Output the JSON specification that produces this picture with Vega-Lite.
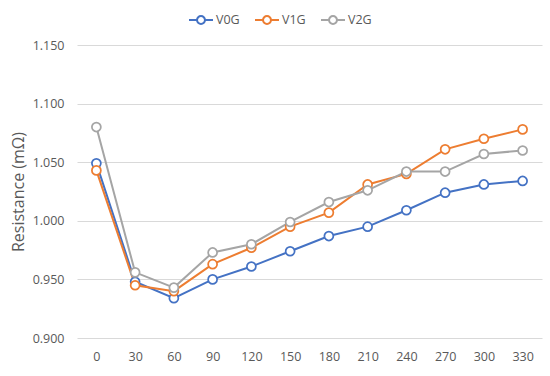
{
  "$schema": "https://vega.github.io/schema/vega-lite/v6.json",
  "width": 465,
  "height": 293,
  "autosize": {"type": "none"},
  "padding": {"left": 77, "top": 45, "right": 8, "bottom": 38},
  "background": "white",
  "config": {
    "view": {"stroke": null},
    "font": "Open Sans",
    "axis": {"labelColor": "#595959", "titleColor": "#595959", "labelFont": "Open Sans", "titleFont": "Open Sans"},
    "legend": {"labelColor": "#595959", "labelFont": "Open Sans"}
  },
  "data": {
    "values": [
      {"t": 0, "s": "V0G", "r": 1.049}, {"t": 30, "s": "V0G", "r": 0.948}, {"t": 60, "s": "V0G", "r": 0.934},
      {"t": 90, "s": "V0G", "r": 0.950}, {"t": 120, "s": "V0G", "r": 0.961}, {"t": 150, "s": "V0G", "r": 0.974},
      {"t": 180, "s": "V0G", "r": 0.987}, {"t": 210, "s": "V0G", "r": 0.995}, {"t": 240, "s": "V0G", "r": 1.009},
      {"t": 270, "s": "V0G", "r": 1.024}, {"t": 300, "s": "V0G", "r": 1.031}, {"t": 330, "s": "V0G", "r": 1.034},
      {"t": 0, "s": "V1G", "r": 1.043}, {"t": 30, "s": "V1G", "r": 0.945}, {"t": 60, "s": "V1G", "r": 0.940},
      {"t": 90, "s": "V1G", "r": 0.963}, {"t": 120, "s": "V1G", "r": 0.977}, {"t": 150, "s": "V1G", "r": 0.995},
      {"t": 180, "s": "V1G", "r": 1.007}, {"t": 210, "s": "V1G", "r": 1.031}, {"t": 240, "s": "V1G", "r": 1.040},
      {"t": 270, "s": "V1G", "r": 1.061}, {"t": 300, "s": "V1G", "r": 1.070}, {"t": 330, "s": "V1G", "r": 1.078},
      {"t": 0, "s": "V2G", "r": 1.080}, {"t": 30, "s": "V2G", "r": 0.956}, {"t": 60, "s": "V2G", "r": 0.943},
      {"t": 90, "s": "V2G", "r": 0.973}, {"t": 120, "s": "V2G", "r": 0.980}, {"t": 150, "s": "V2G", "r": 0.999},
      {"t": 180, "s": "V2G", "r": 1.016}, {"t": 210, "s": "V2G", "r": 1.026}, {"t": 240, "s": "V2G", "r": 1.042},
      {"t": 270, "s": "V2G", "r": 1.042}, {"t": 300, "s": "V2G", "r": 1.057}, {"t": 330, "s": "V2G", "r": 1.060}
    ]
  },
  "encoding": {
    "x": {
      "field": "t", "type": "ordinal", "sort": null,
      "scale": {"paddingInner": 0, "paddingOuter": 0},
      "axis": {"title": null, "labelAngle": 0, "domain": false, "ticks": false, "grid": false, "labelFontSize": 12.5, "labelPadding": 12}
    },
    "y": {
      "field": "r", "type": "quantitative",
      "scale": {"domain": [0.9, 1.15], "nice": false, "zero": false},
      "axis": {
        "title": "Resistance (mΩ)", "values": [0.9, 0.95, 1.0, 1.05, 1.1, 1.15], "format": ".3f",
        "domain": false, "ticks": false, "gridColor": "#d9d9d9", "gridWidth": 1,
        "labelFontSize": 12.5, "labelPadding": 13, "titleFontSize": 16, "titleFontWeight": "normal",
        "titleX": -59, "titleBaseline": "middle"
      }
    }
  },
  "layer": [
    {
      "mark": {"type": "line", "strokeWidth": 2},
      "encoding": {
        "color": {
          "field": "s", "type": "nominal",
          "scale": {"domain": ["V0G", "V1G", "V2G"], "range": ["#4472C4", "#ED7D31", "#A5A5A5"]},
          "legend": {
            "title": null, "orient": "none", "direction": "horizontal", "legendX": 111, "legendY": -38,
            "symbolType": "M-1,0L-0.33,0M0.33,0L1,0M0.33,0A0.33,0.33,0,1,1,-0.33,0A0.33,0.33,0,1,1,0.33,0",
            "symbolSize": 576, "symbolStrokeWidth": 2, "symbolFillColor": "white",
            "labelFontSize": 12.5, "labelOffset": 2, "columnPadding": 11
          }
        }
      }
    },
    {
      "mark": {"type": "point", "filled": true, "fill": "white", "size": 80, "strokeWidth": 1.75, "opacity": 1},
      "encoding": {
        "stroke": {
          "field": "s", "type": "nominal",
          "scale": {"domain": ["V0G", "V1G", "V2G"], "range": ["#4472C4", "#ED7D31", "#A5A5A5"]},
          "legend": null
        }
      }
    }
  ]
}
